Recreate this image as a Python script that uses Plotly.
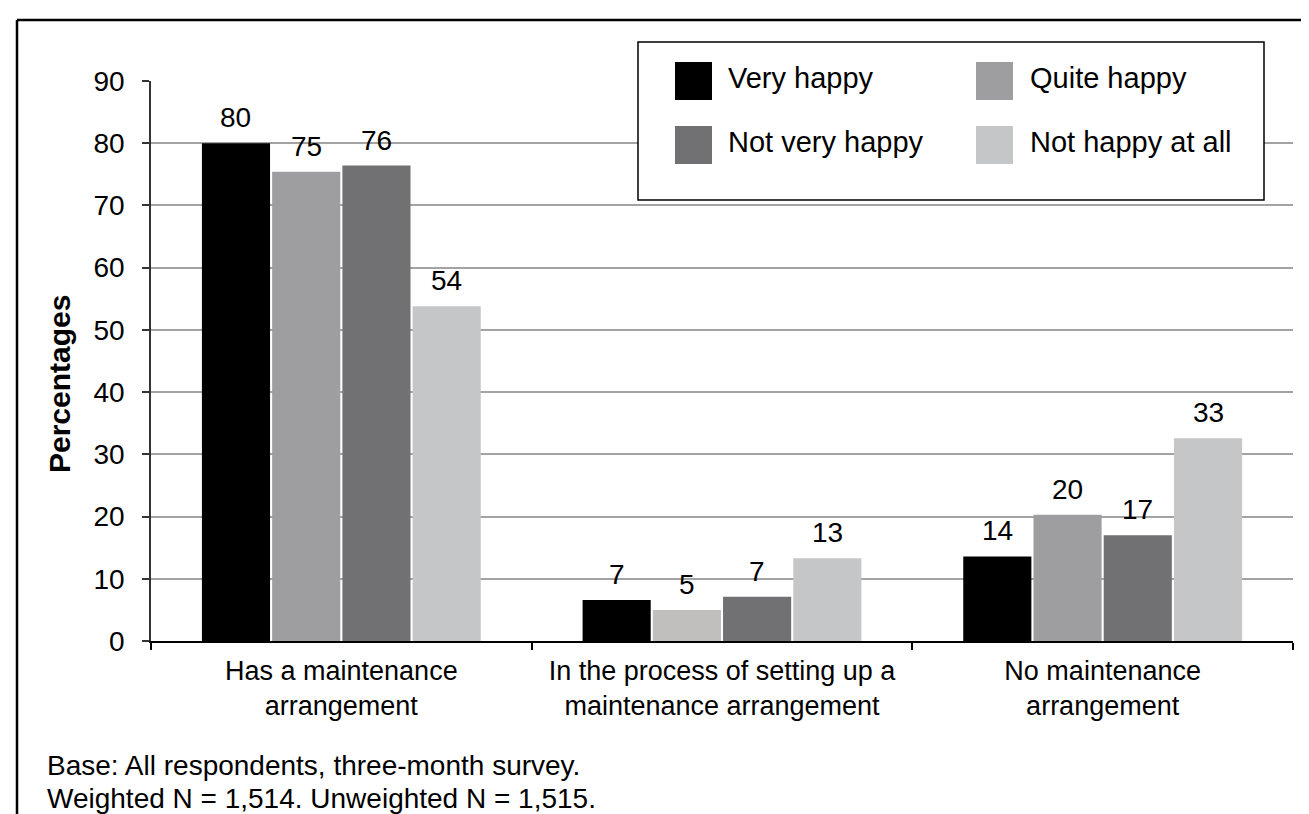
import plotly.graph_objects as go

categories = ["Has a maintenance<br>arrangement",
              "In the process of setting up a<br>maintenance arrangement",
              "No maintenance<br>arrangement"]
series_names = ["Very happy", "Quite happy", "Not very happy", "Not happy at all"]
very_happy = [80.0, 6.6, 13.6]
quite_happy = [75.4, 5.0, 20.3]
not_very_happy = [76.4, 7.1, 17.0]
not_happy_at_all = [53.8, 13.3, 32.6]
y_ticks = [0, 10, 20, 30, 40, 50, 60, 70, 80, 90]

values = [very_happy, quite_happy, not_very_happy, not_happy_at_all]
colors = ["#000000", ["#9e9ea0", "#c0bfbd", "#9e9ea0"], "#717173", "#c5c6c8"]
legend_colors = ["#000000", "#9e9ea0", "#717173", "#c5c6c8"]

W, H = 1309, 814
L, R, T, B = 143, 24, 73, 181
PW, PH = W - L - R, H - T - B
FONT = "Liberation Sans, Arial, sans-serif"

def px(x):
    return (x - L) / PW

def py(y):
    return (H - B - y) / PH

fig = go.Figure()
for name, vals, col in zip(series_names, values, colors):
    fig.add_trace(go.Bar(name=name, x=categories, y=vals,
                         marker=dict(color=col, line=dict(width=0)),
                         showlegend=False))

# data labels
bargap, ngroups = 0.262, 4
cat_w = PW / len(categories)
slot = (1 - bargap) * cat_w / ngroups
annotations = []
for i, vals in enumerate(values):
    for cat, v in zip(categories, vals):
        annotations.append(dict(x=cat, y=v, xref="x", yref="y",
                                xshift=(i - 1.5) * slot, yshift=8,
                                text=f"{v:.0f}", showarrow=False,
                                yanchor="bottom",
                                font=dict(size=28, color="#000000", family=FONT)))

# y-axis title
annotations.append(dict(x=px(51), y=py(376), xref="paper", yref="paper",
                        text="<b>Percentages</b>", textangle=-90, showarrow=False,
                        xanchor="center", yanchor="middle",
                        font=dict(size=30, color="#000000", family=FONT)))
# footnotes
annotations.append(dict(x=px(37), y=py(757), xref="paper", yref="paper",
                        text="Base: All respondents, three-month survey.",
                        showarrow=False, xanchor="left", yanchor="middle",
                        font=dict(size=28, color="#000000", family=FONT)))
annotations.append(dict(x=px(37), y=py(791), xref="paper", yref="paper",
                        text="Weighted N = 1,514. Unweighted N = 1,515.",
                        showarrow=False, xanchor="left", yanchor="middle",
                        font=dict(size=28, color="#000000", family=FONT)))

shapes = []
# legend box
shapes.append(dict(type="rect", xref="paper", yref="paper",
                   x0=px(630), x1=px(1256), y0=py(192), y1=py(34),
                   fillcolor="#ffffff", line=dict(color="#000000", width=1.5),
                   layer="above"))
leg_pos = [(667, 73, 718), (968, 73, 1020), (667, 137, 718), (968, 137, 1020)]
for (sx, sy, tx), name, col in zip(leg_pos, series_names, legend_colors):
    shapes.append(dict(type="rect", xref="paper", yref="paper",
                       x0=px(sx), x1=px(sx + 37), y0=py(sy + 19), y1=py(sy - 19),
                       fillcolor=col, line=dict(width=0), layer="above"))
    annotations.append(dict(x=px(tx), y=py(sy - 3), xref="paper", yref="paper",
                            text=name, showarrow=False, xanchor="left",
                            yanchor="middle",
                            font=dict(size=29, color="#000000", family=FONT)))

# outer frame
for x0, y0, x1, y1 in [(9, 12, 1300, 12), (9, 12, 9, 830), (1300, 12, 1300, 830)]:
    shapes.append(dict(type="line", xref="paper", yref="paper",
                       x0=px(x0), y0=py(y0), x1=px(x1), y1=py(y1),
                       line=dict(color="#000000", width=2.5), layer="above"))

fig.update_layout(
    width=W, height=H,
    margin=dict(l=L, r=R, t=T, b=B, autoexpand=False),
    paper_bgcolor="#ffffff", plot_bgcolor="#ffffff",
    barmode="group", bargap=bargap, bargroupgap=0.03,
    font=dict(family=FONT, size=27, color="#000000"),
    annotations=annotations, shapes=shapes,
    showlegend=False,
)
fig.update_xaxes(showline=True, linecolor="#000000", linewidth=1.5,
                 ticks="outside", tickson="boundaries", ticklen=7,
                 tickcolor="#000000", tickwidth=1.5,
                 tickfont=dict(size=27, family=FONT, color="#000000"),
                 ticklabelstandoff=5, showgrid=False, automargin=False)
fig.update_yaxes(range=[0, 90], tickvals=y_ticks, showline=True,
                 linecolor="#333333", linewidth=1.5, ticks="outside",
                 ticklen=7, tickcolor="#333333", tickwidth=1.5,
                 showgrid=True, gridcolor="#a3a3a3", gridwidth=1.5,
                 zeroline=False, ticklabelstandoff=12,
                 tickfont=dict(size=28, family=FONT, color="#000000"),
                 automargin=False)

fig.write_html("out.html")
